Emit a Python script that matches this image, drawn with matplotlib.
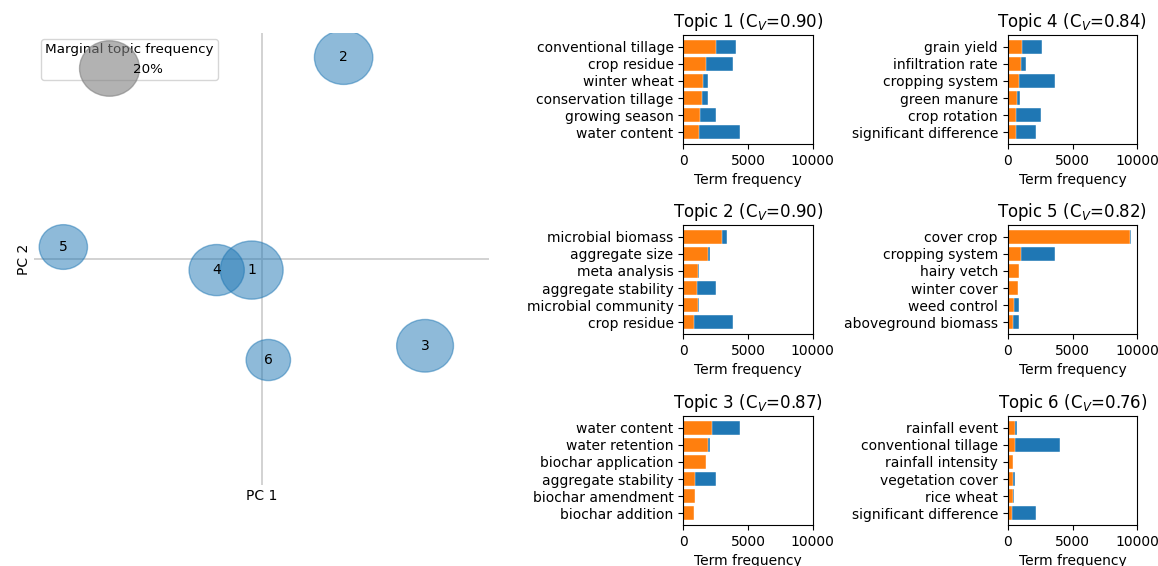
import numpy as np
import matplotlib
matplotlib.use("Agg")
import matplotlib.pyplot as plt
from matplotlib.path import Path
from matplotlib.lines import Line2D

# Topic map: principal-component coordinates and marginal topic frequencies
topic_ids = ["1", "2", "3", "4", "5", "6"]
pc1 = [-0.043, 0.361, 0.719, -0.197, -0.871, 0.030]
pc2 = [-0.049, 0.892, -0.384, -0.049, 0.053, -0.447]
topic_freq = [0.22, 0.19, 0.18, 0.17, 0.13, 0.11]
legend_freq = 0.20

# Per-topic term frequencies (topic-specific and overall corpus)
titles = [
    r"Topic 1 (C$_V$=0.90)", r"Topic 2 (C$_V$=0.90)", r"Topic 3 (C$_V$=0.87)",
    r"Topic 4 (C$_V$=0.84)", r"Topic 5 (C$_V$=0.82)", r"Topic 6 (C$_V$=0.76)",
]
terms_t1 = ["conventional tillage", "crop residue", "winter wheat",
            "conservation tillage", "growing season", "water content"]
topic_t1 = [2500, 1750, 1520, 1440, 1290, 1210]
total_t1 = [4040, 3810, 1880, 1880, 2500, 4350]

terms_t2 = ["microbial biomass", "aggregate size", "meta analysis",
            "aggregate stability", "microbial community", "crop residue"]
topic_t2 = [2960, 1880, 1160, 1080, 1110, 850]
total_t2 = [3350, 2060, 1240, 2520, 1210, 3810]

terms_t3 = ["water content", "water retention", "biochar application",
            "aggregate stability", "biochar amendment", "biochar addition"]
topic_t3 = [2240, 1910, 1730, 900, 880, 830]
total_t3 = [4350, 2090, 1760, 2520, 900, 850]

terms_t4 = ["grain yield", "infiltration rate", "cropping system",
            "green manure", "crop rotation", "significant difference"]
topic_t4 = [1080, 1030, 870, 690, 670, 620]
total_t4 = [2650, 1410, 3680, 980, 2570, 2160]

terms_t5 = ["cover crop", "cropping system", "hairy vetch",
            "winter cover", "weed control", "aboveground biomass"]
topic_t5 = [9410, 1030, 900, 770, 460, 410]
total_t5 = [9540, 3680, 910, 820, 870, 870]

terms_t6 = ["rainfall event", "conventional tillage", "rainfall intensity",
            "vegetation cover", "rice wheat", "significant difference"]
topic_t6 = [570, 570, 410, 390, 390, 330]
total_t6 = [690, 4040, 440, 540, 490, 2160]

freq_ticks = [0, 5000, 10000]

BLUE = "#1f77b4"
ORANGE = "#ff7f0e"

W, H, DPI = 1158, 566, 100
fig = plt.figure(figsize=(W / DPI, H / DPI), dpi=DPI)


def px_axes(x0, y0, x1, y1):
    """Add axes given pixel box (left, top, right, bottom)."""
    return fig.add_axes([x0 / W, (H - y1) / H, (x1 - x0) / W, (y1 - y0) / H])


# --- intertopic distance map ---
ax = px_axes(34, 33, 489, 485)
ax.set_xlim(-1, 1)
ax.set_ylim(-1, 1)
for s in ax.spines.values():
    s.set_visible(False)
ax.set_xticks([])
ax.set_yticks([])
ax.axhline(0, color="#cfcfcf", lw=1.3, zorder=0)
ax.axvline(0, color="#cfcfcf", lw=1.3, zorder=0)

# slightly wide ellipse marker
circ = Path.unit_circle()
ell = Path(circ.vertices * np.array([1.08, 1.0]), circ.codes)

scale = 9300.0
sizes = [scale * f for f in topic_freq]
ax.scatter(pc1, pc2, s=sizes, marker=ell, color=BLUE, alpha=0.5,
           linewidths=1.0, zorder=2)
for tid, x, y in zip(topic_ids, pc1, pc2):
    ax.text(x, y, tid, ha="center", va="center", fontsize=10, zorder=3)

ax.set_xlabel("PC 1", fontsize=10, labelpad=3)
ax.set_ylabel("PC 2", fontsize=10, labelpad=2)

proxy = Line2D([], [], linestyle="none", marker=ell,
               markersize=np.sqrt(scale * legend_freq),
               markerfacecolor="gray", markeredgecolor="gray",
               markeredgewidth=1.0, alpha=0.6)
ax.legend([proxy], ["{:.0f}%".format(legend_freq * 100)],
          title="Marginal topic frequency", loc="upper left",
          bbox_to_anchor=(0.0154, 0.9867), borderaxespad=0.0,
          fontsize=9.7, title_fontsize=9.7,
          numpoints=1, borderpad=0.3, handletextpad=0.8)

# --- term frequency bar panels ---
panels = [
    (terms_t1, topic_t1, total_t1),
    (terms_t2, topic_t2, total_t2),
    (terms_t3, topic_t3, total_t3),
    (terms_t4, topic_t4, total_t4),
    (terms_t5, topic_t5, total_t5),
    (terms_t6, topic_t6, total_t6),
]
col_x = [(683.3, 812.7), (1007.7, 1137.3)]
row_y = [(35, 144), (225, 334), (416, 525)]

for i, (terms, topic_vals, total_vals) in enumerate(panels):
    c, r = divmod(i, 3)
    a = px_axes(col_x[c][0], row_y[r][0], col_x[c][1], row_y[r][1])
    ypos = np.arange(len(terms))
    a.barh(ypos, total_vals, height=0.8, color=BLUE,
           edgecolor="white", linewidth=0.3)
    a.barh(ypos, topic_vals, height=0.8, color=ORANGE,
           edgecolor="white", linewidth=0.3)
    a.set_yticks(ypos)
    a.set_yticklabels(terms, fontsize=10)
    a.invert_yaxis()
    a.set_xlim(0, 10000)
    a.set_xticks(freq_ticks)
    a.set_xticklabels([str(t) for t in freq_ticks], fontsize=10)
    a.set_xlabel("Term frequency", fontsize=10)
    a.set_title(titles[i], fontsize=12)

fig.savefig("out.png", dpi=DPI)
